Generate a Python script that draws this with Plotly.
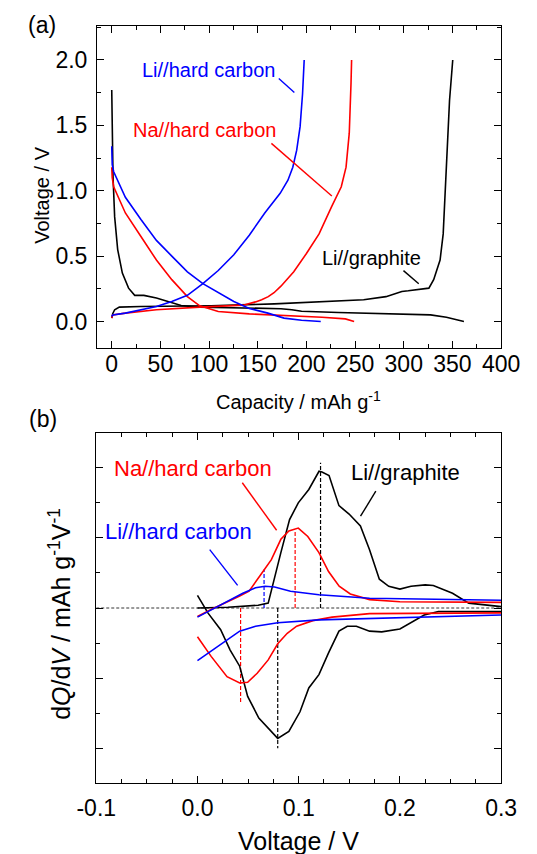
import plotly.graph_objects as go

# ---------------- Panel (a): charge/discharge curves ----------------
gr_dis_cap = [0, 0.5, 1.3, 3, 6.1, 10.9, 17.3, 23.6, 33, 45.9, 58.6, 71.3, 90.4, 134.6, 173.8, 185, 195, 232.7, 298, 327.5, 343.8, 361.8]
gr_dis_v = [1.77, 1.45, 1.11, 0.80, 0.55, 0.37, 0.255, 0.20, 0.20, 0.18, 0.148, 0.122, 0.11, 0.105, 0.098, 0.09, 0.078, 0.069, 0.059, 0.051, 0.033, 0.0]
gr_chg_cap = [0, 1, 3, 7.8, 30, 102, 167, 199, 232.7, 258.8, 281.7, 298, 304.6, 325.8, 330.7, 337.3, 340.5, 343.8, 347, 350.3]
gr_chg_v = [0.026, 0.06, 0.09, 0.11, 0.115, 0.12, 0.135, 0.145, 0.153, 0.166, 0.19, 0.23, 0.235, 0.255, 0.32, 0.47, 0.67, 1.18, 1.69, 2.0]

lihc_dis_cap = [0, 0.5, 2, 14, 30, 45.9, 61.7, 77.7, 93.6, 109.4, 125.4, 141.3, 160.4, 177, 195, 214.7]
lihc_dis_v = [1.34, 1.20, 1.145, 0.95, 0.78, 0.62, 0.50, 0.38, 0.29, 0.22, 0.153, 0.10, 0.064, 0.026, 0.01, 0.0]
lihc_chg_cap = [0, 1, 14, 45.9, 61.7, 77.7, 93.6, 109.4, 125.4, 141.3, 157.2, 173, 181, 186, 190, 193.5, 196, 197.7]
lihc_chg_v = [0.038, 0.05, 0.064, 0.115, 0.153, 0.20, 0.29, 0.39, 0.51, 0.66, 0.83, 0.98, 1.08, 1.18, 1.31, 1.49, 1.74, 2.0]

nahc_dis_cap = [0, 0.5, 2, 14, 30, 45.9, 61.7, 77.7, 90.4, 109.4, 141.3, 167, 216, 240, 249]
nahc_dis_v = [1.18, 1.10, 1.03, 0.83, 0.65, 0.47, 0.32, 0.19, 0.12, 0.076, 0.058, 0.05, 0.033, 0.02, 0.0]
nahc_chg_cap = [0, 1, 14, 45.9, 90.4, 135, 147.7, 154, 160.8, 166.7, 173.8, 187, 200, 213, 226, 235.8, 240.7, 244, 245.8, 246.4]
nahc_chg_v = [0.026, 0.05, 0.064, 0.09, 0.11, 0.125, 0.15, 0.166, 0.19, 0.22, 0.27, 0.38, 0.52, 0.67, 0.88, 1.03, 1.18, 1.44, 1.82, 2.0]

# ---------------- Panel (b): dQ/dV curves ----------------
gr_ox_v = [0, 0.03, 0.06, 0.0699, 0.0824, 0.091, 0.0996, 0.110, 0.1201, 0.123, 0.130, 0.1398, 0.1498, 0.161, 0.170, 0.1797, 0.189, 0.200, 0.211, 0.225, 0.233, 0.252, 0.268, 0.3]
gr_ox_dq = [0.0, 0.01, 0.04, 0.07, 0.79, 1.26, 1.5, 1.69, 1.95, 1.94, 1.89, 1.46, 1.34, 1.17, 0.83, 0.41, 0.31, 0.27, 0.31, 0.33, 0.32, 0.21, 0.07, 0.02]
gr_red_v = [0, 0.0103, 0.0229, 0.0323, 0.0417, 0.0496, 0.0606, 0.0699, 0.0793, 0.0903, 0.1013, 0.110, 0.120, 0.1295, 0.1398, 0.148, 0.157, 0.170, 0.182, 0.2, 0.213, 0.224, 0.238, 0.3]
gr_red_dq = [0.18, -0.07, -0.31, -0.6, -0.83, -1.26, -1.57, -1.71, -1.86, -1.76, -1.48, -1.14, -0.95, -0.64, -0.33, -0.26, -0.26, -0.33, -0.34, -0.3, -0.19, -0.10, -0.05, -0.05]

na_ox_v = [0, 0.0135, 0.0417, 0.051, 0.0637, 0.073, 0.0824, 0.0903, 0.0996, 0.109, 0.120, 0.1295, 0.140, 0.151, 0.170, 0.2, 0.3]
na_ox_dq = [-0.12, -0.02, 0.17, 0.24, 0.5, 0.69, 0.98, 1.10, 1.14, 1.02, 0.79, 0.52, 0.31, 0.20, 0.12, 0.09, 0.08]
na_red_v = [0, 0.0135, 0.0292, 0.0417, 0.0496, 0.059, 0.0699, 0.0793, 0.0887, 0.098, 0.114, 0.133, 0.170, 0.3]
na_red_dq = [-0.41, -0.69, -0.98, -1.07, -1.06, -0.93, -0.74, -0.51, -0.36, -0.26, -0.18, -0.13, -0.08, -0.07]

li_ox_v = [0, 0.026, 0.0448, 0.0574, 0.0668, 0.0762, 0.0919, 0.120, 0.170, 0.3]
li_ox_dq = [-0.13, 0.07, 0.21, 0.29, 0.31, 0.30, 0.24, 0.19, 0.14, 0.11]
li_red_v = [0, 0.0198, 0.0417, 0.0574, 0.0793, 0.12, 0.17, 0.3]
li_red_dq = [-0.75, -0.55, -0.33, -0.26, -0.21, -0.17, -0.15, -0.10]

# tick labels for panel (b) voltage axis
b_tickvals = [-0.1, 0.0, 0.1, 0.2, 0.3]
b_ticktext = ["-0.1", "0.0", "0.1", "0.2", "0.3"]

# peak marker lines: (voltage, extent, colour)
peak_v = [0.1216, 0.0793, 0.0965, 0.0426, 0.0658]
peak_end = [2.07, -2.0, 1.09, -1.35, 0.55]
peak_col = ["black", "black", "red", "red", "blue"]

# labels: text, colour, text position, leader line (x0, y0, x1, y1)
labels_a = [
    ("Li//hard carbon", "blue", 99.3, 1.921, (171.6, 1.858, 187.6, 1.751)),
    ("Na//hard carbon", "red", 95.4, 1.464, (164.0, 1.362, 226.1, 0.96)),
    ("Li//graphite", "black", 267.0, 0.489, (299.7, 0.389, 315.4, 0.288)),
]
labels_b = [
    ("Na//hard carbon", "red", -0.0043, 1.986, (0.0443, 1.786, 0.0782, 1.109)),
    ("Li//hard carbon", "blue", -0.0183, 1.086, (0.0121, 0.833, 0.0397, 0.323)),
    ("Li//graphite", "black", 0.2060, 1.929, (0.1762, 1.666, 0.1611, 1.309)),
]

FONT = "Liberation Sans, Arial, Helvetica, sans-serif"
LW = 1.6

fig = go.Figure()

def add(x, y, col, xa, ya, dash=None, width=LW):
    fig.add_trace(go.Scatter(x=x, y=y, mode="lines", xaxis=xa, yaxis=ya,
                             line=dict(color=col, width=width, dash=dash),
                             showlegend=False, hoverinfo="skip"))

# panel (a)
add(gr_dis_cap, gr_dis_v, "black", "x", "y")
add(gr_chg_cap, gr_chg_v, "black", "x", "y")
add(nahc_dis_cap, nahc_dis_v, "red", "x", "y")
add(nahc_chg_cap, nahc_chg_v, "red", "x", "y")
add(lihc_dis_cap, lihc_dis_v, "blue", "x", "y")
add(lihc_chg_cap, lihc_chg_v, "blue", "x", "y")

# panel (b)
add([-0.1, 0.3], [0, 0], "black", "x2", "y2", dash="3px,2px", width=0.8)
for v, e, c in zip(peak_v, peak_end, peak_col):
    add([v, v], [0, e], c, "x2", "y2", dash="4px,2px", width=1.2)
add(gr_ox_v, gr_ox_dq, "black", "x2", "y2")
add(gr_red_v, gr_red_dq, "black", "x2", "y2")
add(na_ox_v, na_ox_dq, "red", "x2", "y2")
add(na_red_v, na_red_dq, "red", "x2", "y2")
add(li_ox_v, li_ox_dq, "blue", "x2", "y2")
add(li_red_v, li_red_dq, "blue", "x2", "y2")

annotations = []
shapes = []
for (txt, col, tx, ty, ln), xr, yr, fs in [(l, "x", "y", 20) for l in labels_a] + [(l, "x2", "y2", 22) for l in labels_b]:
    annotations.append(dict(text=txt, x=tx, y=ty, xref=xr, yref=yr, showarrow=False,
                            font=dict(color=col, size=fs, family=FONT), xanchor="center", yanchor="middle"))
    shapes.append(dict(type="line", xref=xr, yref=yr, x0=ln[0], y0=ln[1], x1=ln[2], y1=ln[3],
                       line=dict(color=col, width=1.4)))

def ptxt(text, x, y, size, angle=0):
    annotations.append(dict(text=text, x=x, y=y, xref="paper", yref="paper", showarrow=False,
                            textangle=angle, font=dict(size=size, color="black", family=FONT),
                            xanchor="center", yanchor="middle"))

ptxt("(a)", 0.0447, 0.9707, 23)
ptxt("(b)", 0.0456, 0.5094, 23)
ptxt("Capacity / mAh g<sup>-1</sup>", 0.5598, 0.5316, 20)
ptxt("Voltage / V", 0.0447, 0.7711, 20, -90)
ptxt("Voltage / V", 0.5596, 0.0158, 25)
ptxt("d<i>Q</i>/d<i>V</i> / mAh g<sup>-1</sup>V<sup>-1</sup>", 0.080, 0.281, 25, -90)

axis_common = dict(showline=True, linecolor="black", linewidth=1.3, mirror="ticks",
                   ticks="inside", ticklen=7, tickwidth=1.2, tickcolor="black",
                   showgrid=False, zeroline=False,
                   tickfont=dict(size=23, color="black", family=FONT))

fig.update_layout(
    width=537, height=854, margin=dict(l=0, r=0, t=0, b=0),
    paper_bgcolor="white", plot_bgcolor="white",
    xaxis=dict(domain=[0.1549, 0.9661], range=[-15, 400], tickmode="linear", tick0=0, dtick=50,
               minor=dict(dtick=25, ticks="inside", ticklen=4, tickcolor="black", tickwidth=1.2),
               anchor="y", ticklabelstandoff=-4, **axis_common),
    yaxis=dict(domain=[0.5929, 0.9696], range=[-0.2, 2.26], tickmode="linear", tick0=0, dtick=0.5,
               tickformat=".1f",
               minor=dict(dtick=0.25, ticks="inside", ticklen=4, tickcolor="black", tickwidth=1.2),
               anchor="x", ticklabelstandoff=4, **axis_common),
    xaxis2=dict(domain=[0.1531, 0.9661], range=[-0.1, 0.3], tickmode="array",
                tickvals=b_tickvals, ticktext=b_ticktext,
                minor=dict(dtick=0.025, tick0=0, ticks="inside", ticklen=4, tickcolor="black", tickwidth=1.2),
                anchor="y2", ticklabelstandoff=4, **axis_common),
    yaxis2=dict(domain=[0.0828, 0.4933], range=[-2.5, 2.5], tickmode="linear", tick0=0, dtick=1,
                showticklabels=False,
                minor=dict(dtick=0.5, ticks="inside", ticklen=4, tickcolor="black", tickwidth=1.2),
                anchor="x2", **axis_common),
    annotations=annotations, shapes=shapes,
)

fig.write_html("out.html")
